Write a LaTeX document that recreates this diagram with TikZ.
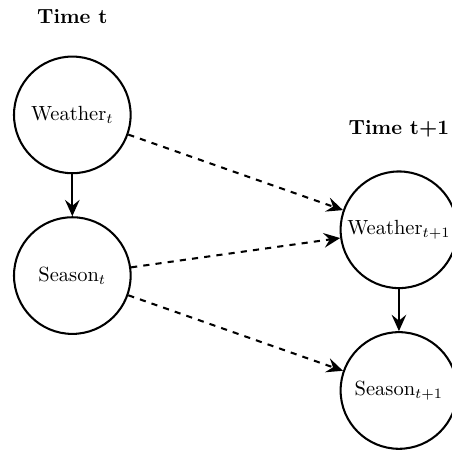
\documentclass[tikz,border=0pt]{standalone}
\usetikzlibrary{arrows.meta,positioning}
\tikzset{
  state/.style={circle,draw,line width=1pt,minimum size=2cm,inner sep=0pt},
  slice/.style={font=\bfseries},
  intra/.style={-{Stealth[length=2.8mm,width=2.5mm,inset=1mm]},line width=1pt},
  inter/.style={intra,dashed}
}

\begin{document}
\begin{tikzpicture}
\useasboundingbox (0,0) rectangle (7.75,-7.72);

% time slice t
\node[state] (wt) at (1.24,-1.97) {Weather$_t$};
\node[state,below=0.72cm of wt] (st) {Season$_t$};
\node[slice,above=0.42cm of wt] (tt) {Time t};

% time slice t+1
\node[state] (wn) at (6.84,-3.94) {Weather$_{t+1}$};
\node[state,below=0.72cm of wn] (sn) {Season$_{t+1}$};
\node[slice,above=0.44cm of wn] (tn) {Time t+1};

\draw[intra] (wt) -- (st);
\draw[intra] (wn) -- (sn);

\draw[inter] (wt) -- (wn);
\draw[inter] (st) -- (wn);
\draw[inter] (st) -- (sn);
\end{tikzpicture}
\end{document}
